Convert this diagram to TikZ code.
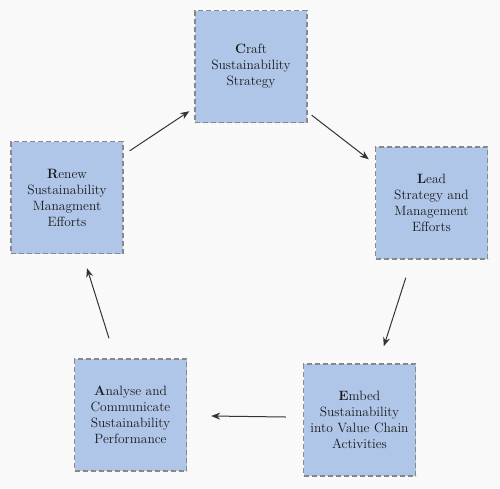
\documentclass[tikz,border=0pt]{standalone}
\usetikzlibrary{arrows.meta}
\definecolor{bg}{HTML}{F9F9F9}
\definecolor{boxfill}{HTML}{AFC6E8}
\definecolor{boxline}{HTML}{888888}
\definecolor{txt}{HTML}{1A1A1A}
\definecolor{arr}{HTML}{333333}
\begin{document}
\begin{tikzpicture}[x=1pt,y=-1pt,
  stagebox/.style={draw=boxline,fill=boxfill,line width=1.4pt,dash pattern=on 5pt off 3pt,
    minimum width=112pt,minimum height=112pt,inner sep=0pt,align=center,
    text=txt,font=\fontsize{13.5}{16}\selectfont},
  conn/.style={draw=arr,line width=1pt,-{Stealth[length=9pt,width=7pt]}}]
\fill[bg] (0,0) rectangle (500,488);
\useasboundingbox (0,0) rectangle (500,488);
\node[stagebox] (craft) at (251,66.5) {\textbf{C}raft\\Sustainability\\Strategy};
\node[stagebox] (lead) at (431.5,203) {\textbf{L}ead\\Strategy and\\Management\\Efforts};
\node[stagebox] (embed) at (359.5,420) {\textbf{E}mbed\\Sustainability\\into Value Chain\\Activities};
\node[stagebox] (analyse) at (130.5,415) {\textbf{A}nalyse and\\Communicate\\Sustainability\\Performance};
\node[stagebox] (renew) at (67,197.5) {\textbf{R}enew\\Sustainability\\Managment\\Efforts};
\draw[conn] ([shift={(4,-8)}]craft.south east) -- ([shift={(-6,13)}]lead.north west);
\draw[conn] ([shift={(31,18)}]lead.south west) -- ([shift={(81,-17)}]embed.north west);
\draw[conn] ([shift={(-17,-3)}]embed.west) -- ([shift={(24,1)}]analyse.east);
\draw[conn] ([shift={(-21.5,-20)}]analyse.north) -- ([shift={(20,14)}]renew.south);
\draw[conn] ([shift={(6,10)}]renew.north east) -- ([shift={(-5,-12)}]craft.south west);
\end{tikzpicture}
\end{document}
